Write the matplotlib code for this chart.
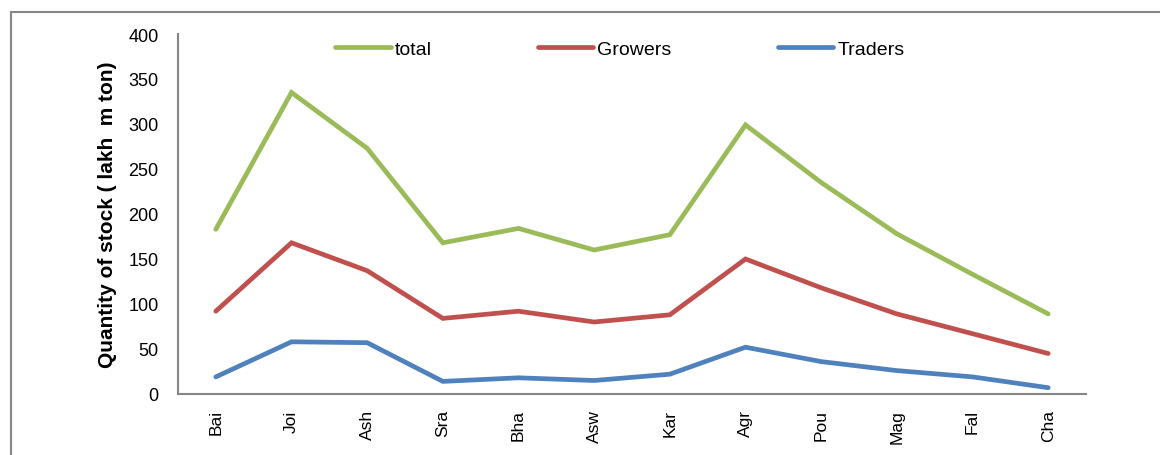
import matplotlib
matplotlib.use("Agg")
import matplotlib.pyplot as plt
from matplotlib.patches import Rectangle

categories = ["Bai", "Joi", "Ash", "Sra", "Bha", "Asw", "Kar", "Agr", "Pou", "Mag", "Fal", "Cha"]
total = [183, 335, 273, 168, 184, 160, 177, 299, 235, 178, 133, 89]
growers = [92, 168, 137, 84, 92, 80, 88, 150, 118, 89, 67, 45]
traders = [19, 58, 57, 14, 18, 15, 22, 52, 36, 26, 19, 7]
yticks = [0, 50, 100, 150, 200, 250, 300, 350, 400]

plt.rcParams['font.family'] = ['Liberation Sans', 'DejaVu Sans']

fig = plt.figure(figsize=(11.6, 4.56), dpi=100)
fig.patches.append(Rectangle((11/1160, -0.1), 1.2, 1 - 13/456 + 0.1,
                             transform=fig.transFigure, fill=False,
                             edgecolor='#868686', linewidth=1.5))
ax = fig.add_axes([178/1160, 1 - 395/456, (1086 - 178)/1160, (395 - 35)/456])

x = list(range(len(categories)))
lw = 3.4
ax.plot(x, total, color='#9BBB59', lw=lw, label='total', solid_capstyle='round', solid_joinstyle='miter')
ax.plot(x, growers, color='#C0504D', lw=lw, label='Growers', solid_capstyle='round', solid_joinstyle='miter')
ax.plot(x, traders, color='#4F81BD', lw=lw, label='Traders', solid_capstyle='round', solid_joinstyle='miter')

ax.set_xlim(-0.5, len(categories) - 0.5)
ax.set_ylim(0, 400)
ax.set_yticks(yticks)
ax.set_xticks(x)
ax.set_xticklabels(categories, rotation=90, fontsize=12.5)
ax.tick_params(axis='y', length=0, labelsize=13, pad=14)
ax.tick_params(axis='x', length=0, pad=11)
for s in ['top', 'right']:
    ax.spines[s].set_visible(False)
for s in ['left', 'bottom']:
    ax.spines[s].set_color('#868686')
    ax.spines[s].set_linewidth(1.5)

ax.set_ylabel('Quantity of stock ( lakh  m ton)', fontsize=15, fontweight='bold', labelpad=8)

leg = ax.legend(loc='center', bbox_to_anchor=(620/1160, 1 - 50/456), bbox_transform=fig.transFigure,
                ncol=3, frameon=False, fontsize=14, handlelength=2.83, handletextpad=0.2,
                columnspacing=5.5)

fig.savefig('out.png', dpi=100)
